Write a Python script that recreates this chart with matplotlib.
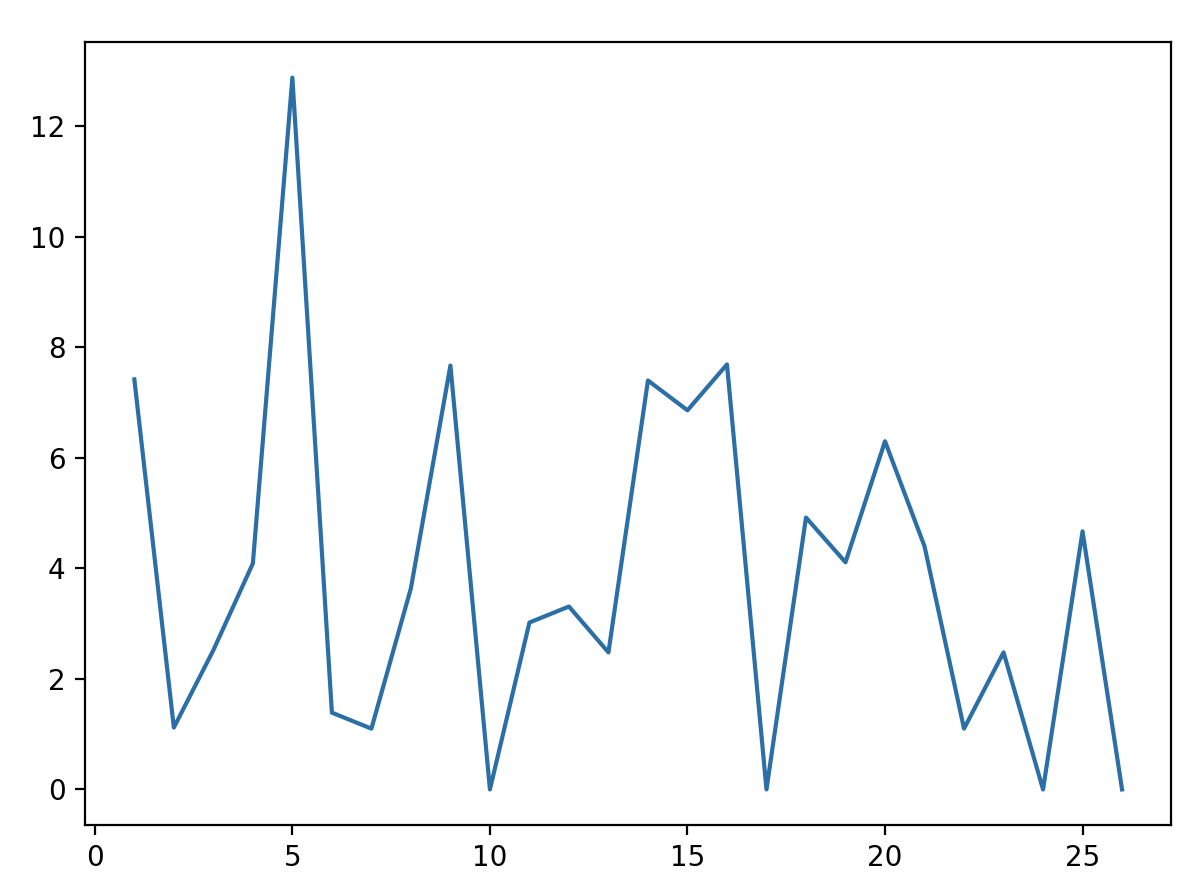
import matplotlib
matplotlib.use("Agg")
import matplotlib.pyplot as plt

# values
x = list(range(1, 27))
y = [7.42, 1.12, 2.52, 4.09, 12.88, 1.39, 1.10, 3.64, 7.67, 0.0,
     3.02, 3.31, 2.48, 7.40, 6.86, 7.69, 0.0, 4.92, 4.11, 6.30,
     4.40, 1.10, 2.48, 0.0, 4.67, 0.0]

fig = plt.figure(figsize=(6.0, 4.48), dpi=200)
ax = fig.add_axes([0.0708, 0.0792, 0.9054, 0.8739])
ax.plot(x, y, color='#2b6fa6', linewidth=1.5)
ax.set_xticks([0, 5, 10, 15, 20, 25])
ax.set_yticks([0, 2, 4, 6, 8, 10, 12])
ax.tick_params(labelsize=10)

fig.savefig('out.png', dpi=200)
